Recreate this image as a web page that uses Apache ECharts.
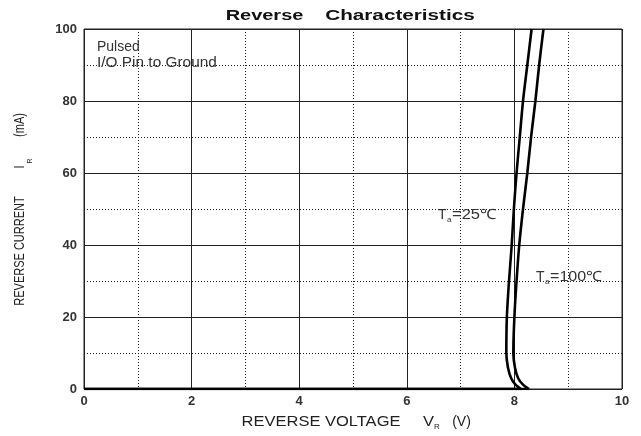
<!DOCTYPE html>
<html>
<head>
<meta charset="utf-8">
<script src="https://cdn.jsdelivr.net/npm/echarts@6/dist/echarts.min.js"></script>
<style>html,body{margin:0;padding:0;background:#fff}#c{width:641px;height:436px}</style>
</head>
<body>
<div id="c"></div>
<script>
// Data (V_R in volts, I_R in mA)
var xTicks = [0, 2, 4, 6, 8, 10];
var yTicks = [0, 20, 40, 60, 80, 100];
var curve25V = [0, 8.12, 8.02, 7.94, 7.88, 7.85, 7.86, 7.90, 7.95, 7.99, 8.04, 8.10, 8.16, 8.24, 8.32];
var curve25I = [0, 0, 1.2, 3, 6, 10, 20, 30, 40, 50, 60, 70, 80, 90, 100];
var curve100V = [0, 8.27, 8.16, 8.07, 8.01, 7.98, 8.00, 8.04, 8.09, 8.16, 8.24, 8.31, 8.39, 8.46, 8.54];
var curve100I = [0, 0, 1.2, 3, 6, 10, 20, 30, 40, 50, 60, 70, 80, 90, 100];

function pairs(xs, ys) { return xs.map(function (x, i) { return [x, ys[i]]; }); }

var chart = echarts.init(document.getElementById('c'), null, { renderer: 'canvas' });
var font = 'Liberation Sans, Arial, sans-serif';
function txt(x, y, text, size, opts) {
  opts = opts || {};
  return {
    type: 'text', x: x, y: y, rotation: opts.rot || 0,
    scaleX: opts.sx || 1, scaleY: opts.sy || 1, z: 100,
    style: { x: 0, y: 0, text: text, align: opts.align || 'center', verticalAlign: 'middle',
      font: (opts.bold ? 'bold ' : '') + size + 'px ' + font, fill: opts.color || '#222' }
  };
}
var R90 = Math.PI / 2;
chart.setOption({
  animation: false,
  backgroundColor: '#fff',
  grid: { left: 84, right: 19, top: 29, bottom: 47, show: true, borderColor: '#222', borderWidth: 1, containLabel: false },
  xAxis: {
    type: 'value', min: xTicks[0], max: xTicks[xTicks.length - 1], interval: 2,
    axisLine: { show: false }, axisTick: { show: false },
    axisLabel: { color: '#333', fontFamily: font, fontSize: 13, fontWeight: 'bold', margin: 6 },
    splitLine: { show: true, lineStyle: { color: '#222', width: 1, type: 'solid' } },
    minorTick: { show: false, splitNumber: 2 },
    minorSplitLine: { show: true, lineStyle: { color: '#222', width: 1, type: [1, 2] } }
  },
  yAxis: {
    type: 'value', min: yTicks[0], max: yTicks[yTicks.length - 1], interval: 20,
    axisLine: { show: false }, axisTick: { show: false },
    axisLabel: { color: '#333', fontFamily: font, fontSize: 13, fontWeight: 'bold', margin: 7 },
    splitLine: { show: true, lineStyle: { color: '#222', width: 1, type: 'solid' } },
    minorTick: { show: false, splitNumber: 2 },
    minorSplitLine: { show: true, lineStyle: { color: '#222', width: 1, type: [1, 2] } }
  },
  series: [
    { type: 'line', name: 'Ta=25', data: pairs(curve25V, curve25I), showSymbol: false, smooth: 0.25,
      lineStyle: { color: '#000', width: 2.6 }, z: 5 },
    { type: 'line', name: 'Ta=100', data: pairs(curve100V, curve100I), showSymbol: false, smooth: 0.25,
      lineStyle: { color: '#000', width: 2.6 }, z: 5 }
  ],
  graphic: [
    // title
    txt(264.5, 15.5, 'Reverse', 15, { bold: true, sx: 1.33, color: '#111' }),
    txt(400, 15.5, 'Characteristics', 15, { bold: true, sx: 1.38, color: '#111' }),
    // notes
    txt(97, 46.7, 'Pulsed', 14, { align: 'left', color: '#333' }),
    txt(97, 63, 'I/O Pin to Ground', 14, { align: 'left', sx: 1.1, color: '#333' }),
    // curve labels
    txt(438, 215, 'T', 14, { align: 'left', color: '#333' }),
    txt(447, 220, 'a', 8, { align: 'left', color: '#333' }),
    txt(452, 215, '=25℃', 14, { align: 'left', sx: 1.18, color: '#333' }),
    txt(536, 277, 'T', 14, { align: 'left', color: '#333' }),
    txt(545, 282, 'a', 8, { align: 'left', color: '#333' }),
    txt(550, 277, '=100℃', 14, { align: 'left', sx: 1.15, color: '#333' }),
    // x axis name
    txt(321, 422, 'REVERSE VOLTAGE', 15, { sx: 1.1, color: '#222' }),
    txt(428.5, 422, 'V', 15, { sx: 1.1, color: '#222' }),
    txt(437, 427, 'R', 8, { color: '#222' }),
    txt(461.5, 422, '(V)', 14, { color: '#222' }),
    // y axis name
    txt(20, 251, 'REVERSE CURRENT', 11, { rot: R90, sy: 1.3, color: '#222' }),
    txt(20, 167, 'I', 11, { rot: R90, sy: 1.3, color: '#222' }),
    txt(30, 161, 'R', 7, { rot: R90, color: '#222' }),
    txt(20, 125, '(mA)', 11, { rot: R90, sy: 1.3, color: '#222' })
  ]
});
</script>
</body>
</html>
